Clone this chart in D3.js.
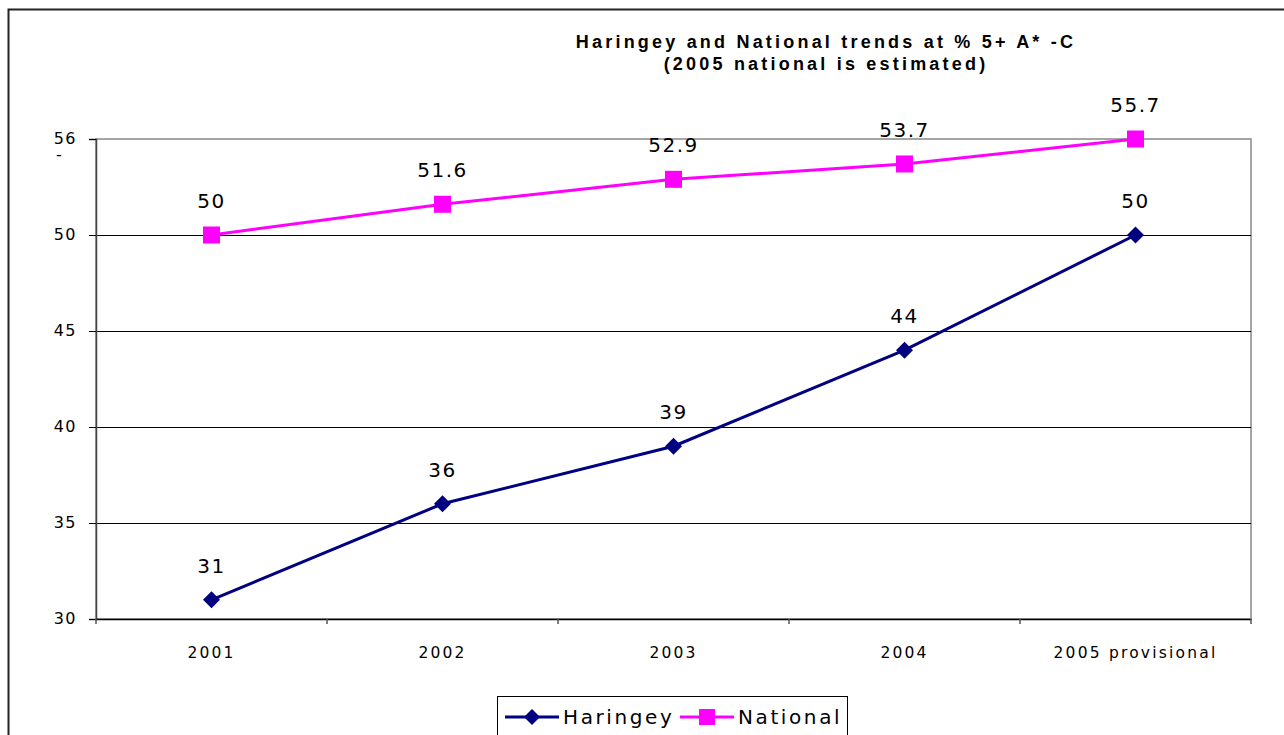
<!DOCTYPE html>
<html>
<head>
<meta charset="utf-8">
<script src="https://cdn.jsdelivr.net/npm/d3@7"></script>
<style>
  body { margin: 0; background: #fff; }
  svg { display: block; }
  text { font-family: "DejaVu Sans", sans-serif; fill: #000; }
</style>
</head>
<body>
<div id="chart"></div>
<script>
// chart data
var years = ["2001", "2002", "2003", "2004", "2005 provisional"];
var haringey = [31, 36, 39, 44, 50];
var national = [50, 51.6, 52.9, 53.7, 55.7];
var yTicks = [30, 35, 40, 45, 50, 55];
var yTickLabels = ["30", "35", "40", "45", "50", "56"];

var width = 1284, height = 735,
    margin = {top: 139, right: 33, bottom: 116, left: 96},
    innerWidth = width - margin.left - margin.right,
    innerHeight = height - margin.top - margin.bottom;

var svg = d3.select("#chart").append("svg")
    .attr("width", width)
    .attr("height", height);

// outer frame
svg.append("rect")
    .attr("x", 8.5).attr("y", 9.5)
    .attr("width", 1290).attr("height", 740)
    .attr("fill", "none").attr("stroke", "#222").attr("stroke-width", 2);

// title
var title = svg.append("text")
    .attr("x", 826).attr("y", 48)
    .attr("text-anchor", "middle")
    .style("font-family", "'Liberation Sans', Arial, sans-serif")
    .style("font-weight", "bold")
    .style("font-size", "18px")
    .style("letter-spacing", "3.2px");
title.append("tspan").attr("x", 826).text("Haringey and National trends at % 5+ A* -C");
title.append("tspan").attr("x", 826).attr("dy", 22).text("(2005 national is estimated)");

var g = svg.append("g")
    .attr("transform", "translate(" + margin.left + "," + margin.top + ")");

var xScale = d3.scaleBand().domain(years).range([0, innerWidth]);
var yScale = d3.scaleLinear().domain([30, 55]).range([innerHeight, 0]).clamp(true);

// plot area border (top/right grey)
g.append("rect")
    .attr("x", 0).attr("y", 0)
    .attr("width", innerWidth).attr("height", innerHeight)
    .attr("fill", "none").attr("stroke", "#888").attr("stroke-width", 1.5);

// gridlines
g.selectAll(".grid")
    .data(yTicks.slice(1, -1))
    .enter().append("line")
    .attr("class", "grid")
    .attr("x1", 0).attr("x2", innerWidth)
    .attr("y1", function(d) { return Math.round(yScale(d)) + 0.5; })
    .attr("y2", function(d) { return Math.round(yScale(d)) + 0.5; })
    .attr("stroke", "#000").attr("stroke-width", 1);

// y axis
var yAxis = g.append("g")
    .call(d3.axisLeft(yScale)
      .tickValues(yTicks)
      .tickSize(7)
      .tickPadding(12)
      .tickFormat(function(d, i) { return yTickLabels[i]; }));
yAxis.select(".domain").attr("stroke", "#444").attr("stroke-width", 1.5);
yAxis.selectAll("line").attr("stroke", "#000");
yAxis.selectAll("text")
    .style("font-size", "16px")
    .style("letter-spacing", "1.5px")
    .attr("dy", "0.25em");
// stray dash under top label, as in the source
g.append("text")
    .attr("x", -40).attr("y", 21)
    .style("font-size", "16px")
    .text("-");

// x axis
var xAxis = g.append("g")
    .attr("transform", "translate(0," + innerHeight + ")")
    .call(d3.axisBottom(xScale).tickSize(0).tickPadding(28));
xAxis.select(".domain").attr("stroke", "#000").attr("stroke-width", 1.5);
xAxis.selectAll("text")
    .style("font-size", "15.5px")
    .style("letter-spacing", "2.2px");
xAxis.selectAll(".band-tick")
    .data(d3.range(years.length + 1))
    .enter().append("line")
    .attr("class", "band-tick")
    .attr("x1", function(i) { return i * xScale.step(); })
    .attr("x2", function(i) { return i * xScale.step(); })
    .attr("y1", 0).attr("y2", 5)
    .attr("stroke", "#555").attr("stroke-width", 1.5);

function X(d, i) { return xScale(years[i]) + xScale.bandwidth() / 2; }

var line = d3.line()
    .x(function(d, i) { return X(d, i); })
    .y(function(d) { return yScale(d); });

// Haringey
g.append("path")
    .datum(haringey)
    .attr("d", line)
    .attr("fill", "none").attr("stroke", "#000080").attr("stroke-width", 3);
g.selectAll(".dia")
    .data(haringey)
    .enter().append("path")
    .attr("class", "dia")
    .attr("transform", function(d, i) { return "translate(" + X(d, i) + "," + yScale(d) + ")"; })
    .attr("d", "M0,-8.5L8.5,0L0,8.5L-8.5,0Z")
    .attr("fill", "#000080");

// National
g.append("path")
    .datum(national)
    .attr("d", line)
    .attr("fill", "none").attr("stroke", "#ff00ff").attr("stroke-width", 3);
g.selectAll(".sq")
    .data(national)
    .enter().append("rect")
    .attr("class", "sq")
    .attr("x", function(d, i) { return X(d, i) - 8.5; })
    .attr("y", function(d) { return yScale(d) - 8.5; })
    .attr("width", 17).attr("height", 17)
    .attr("fill", "#ff00ff");

// data labels
function labels(data, cls) {
  g.selectAll("." + cls)
      .data(data)
      .enter().append("text")
      .attr("class", cls)
      .attr("x", function(d, i) { return X(d, i); })
      .attr("y", function(d) { return yScale(d) - 27; })
      .attr("text-anchor", "middle")
      .style("font-size", "20px")
      .style("letter-spacing", "1.5px")
      .text(function(d) { return d; });
}
labels(haringey, "lab-h");
labels(national, "lab-n");

// legend
var legend = svg.append("g").attr("transform", "translate(497,696)");
legend.append("rect")
    .attr("x", 0.5).attr("y", 0.5)
    .attr("width", 350).attr("height", 60)
    .attr("fill", "#fff").attr("stroke", "#000").attr("stroke-width", 1);
var items = [
  {name: "Haringey", color: "#000080", shape: "dia", x: 8},
  {name: "National", color: "#ff00ff", shape: "sq", x: 183}
];
items.forEach(function(it) {
  var lg = legend.append("g").attr("transform", "translate(" + it.x + ",21)");
  lg.append("line").attr("x1", 0).attr("x2", 54)
      .attr("stroke", it.color).attr("stroke-width", 3);
  if (it.shape === "dia") {
    lg.append("path").attr("transform", "translate(27,0)")
        .attr("d", "M0,-8L8,0L0,8L-8,0Z").attr("fill", it.color);
  } else {
    lg.append("rect").attr("x", 19).attr("y", -8).attr("width", 16).attr("height", 16)
        .attr("fill", it.color);
  }
  lg.append("text").attr("x", 58).attr("y", 7)
      .style("font-size", "20px")
      .style("letter-spacing", "2.6px")
      .text(it.name);
});
</script>
</body>
</html>
